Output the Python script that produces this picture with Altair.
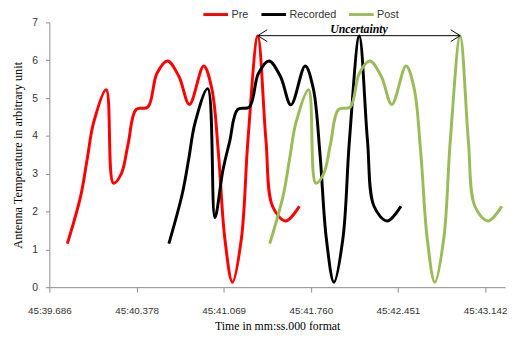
import altair as alt
import pandas as pd

series_names = ["Pre", "Recorded", "Post"]
series_colors = ["#FF0000", "#000000", "#9BBB59"]

pre_time = [39.829, 39.934, 39.985, 40.037, 40.137, 40.194, 40.258, 40.311, 40.375,
            40.467, 40.539, 40.623, 40.714, 40.797, 40.910, 40.974, 41.027, 41.078,
            41.138, 41.209, 41.261, 41.339, 41.404, 41.456, 41.560, 41.669]
pre_value = [1.15, 2.40, 3.36, 4.35, 5.22, 2.75, 3.01, 3.79, 4.70,
             4.76, 5.65, 5.98, 5.57, 4.83, 5.85, 5.26, 3.54, 1.28,
             0.13, 1.28, 3.88, 6.64, 3.88, 2.14, 1.75, 2.14]

recorded_time = [40.634, 40.739, 40.790, 40.842, 40.942, 40.999, 41.063, 41.116, 41.180,
                 41.272, 41.344, 41.428, 41.519, 41.602, 41.715, 41.779, 41.832, 41.883,
                 41.943, 42.014, 42.066, 42.144, 42.209, 42.261, 42.365, 42.474]
recorded_value = [1.15, 2.45, 3.36, 4.35, 5.25, 1.84, 3.10, 3.85, 4.70,
                  4.76, 5.65, 5.98, 5.57, 4.82, 5.85, 5.26, 3.54, 1.28,
                  0.13, 1.28, 3.88, 6.64, 3.88, 2.14, 1.75, 2.14]

post_time = [41.434, 41.539, 41.590, 41.642, 41.742, 41.799, 41.863, 41.916, 41.980,
             42.072, 42.144, 42.228, 42.319, 42.402, 42.515, 42.579, 42.632, 42.683,
             42.743, 42.814, 42.866, 42.944, 43.009, 43.061, 43.165, 43.274]
post_value = [1.15, 2.40, 3.36, 4.35, 5.22, 2.75, 3.01, 3.79, 4.70,
              4.76, 5.65, 5.98, 5.57, 4.83, 5.85, 5.26, 3.54, 1.28,
              0.13, 1.28, 3.88, 6.64, 3.88, 2.14, 1.75, 2.14]

x_tick_values = [39.686, 40.378, 41.069, 41.760, 42.451, 43.142]
x_tick_labels = ["45:39.686", "45:40.378", "45:41.069", "45:41.760", "45:42.451", "45:43.142"]
y_tick_values = [0, 1, 2, 3, 4, 5, 6, 7]

annot_start = [41.339]
annot_end = [42.944]
annot_level = [6.65]
annot_text = ["Uncertainty"]

rows = []
for name, ts, vs in zip(series_names,
                        [pre_time, recorded_time, post_time],
                        [pre_value, recorded_value, post_value]):
    for t, v in zip(ts, vs):
        rows.append({"series": name, "time": t, "value": v})
df = pd.DataFrame(rows)

label_map = "{" + ",".join(f"'{v:.3f}':'{l}'" for v, l in zip(x_tick_values, x_tick_labels)) + "}"
label_expr = label_map + "[format(datum.value, '.3f')]"

x_scale = alt.Scale(domain=[39.686, 43.30], nice=False, zero=False)
y_scale = alt.Scale(domain=[0, 7], nice=False)

x_axis = alt.Axis(values=x_tick_values, labelExpr=label_expr, title="Time in mm:ss.000 format",
                  titleFont="Liberation Serif", titleFontSize=12, titleFontWeight="normal",
                  titleColor="#000000", labelFont="Liberation Sans", labelFontSize=10,
                  labelColor="#333333", domainColor="#8C8C8C", tickColor="#8C8C8C",
                  tickSize=5, labelPadding=14, titlePadding=5, grid=False,
                  labelFlush=False, labelOverlap=False)
y_axis = alt.Axis(values=y_tick_values, tickCount=8, format="d",
                  title="Antenna Temperature in arbitrary unit",
                  titleFont="Liberation Serif", titleFontSize=12.5, titleFontWeight="normal",
                  titleColor="#000000", labelFont="Liberation Sans", labelFontSize=10.5,
                  labelColor="#333333", domainColor="#8C8C8C", tickColor="#8C8C8C",
                  tickSize=4, labelPadding=8, titlePadding=7, grid=False,
                  labelFlush=False, labelOverlap=False)

lines = alt.Chart(df).mark_line(interpolate="catmull-rom", strokeWidth=3).encode(
    x=alt.X("time:Q", scale=x_scale, axis=x_axis),
    y=alt.Y("value:Q", scale=y_scale, axis=y_axis),
    color=alt.Color("series:N", scale=alt.Scale(domain=series_names, range=series_colors),
                    sort=series_names,
                    legend=alt.Legend(orient="none", legendX=155, legendY=-22, direction="horizontal",
                                      title=None, symbolType="stroke", symbolSize=625,
                                      symbolStrokeWidth=3, labelFont="Liberation Sans",
                                      labelFontSize=11, labelColor="#333333", labelOffset=2,
                                      columnPadding=6)),
    detail="series:N",
)

adf = pd.DataFrame({"start": annot_start, "end": annot_end, "level": annot_level,
                    "text": annot_text})
adf["mid"] = (adf["start"] + adf["end"]) / 2

rule = alt.Chart(adf).mark_rule(color="#000000", strokeWidth=1).encode(
    x=alt.X("start:Q", scale=x_scale, axis=x_axis), x2="end:Q",
    y=alt.Y("level:Q", scale=y_scale, axis=y_axis))
left_head = alt.Chart(adf).mark_point(shape="M1.6,-1L0,0L1.6,1", size=144, filled=False,
                                      color="#000000", strokeWidth=1, opacity=1).encode(
    x=alt.X("start:Q", scale=x_scale, axis=x_axis), y=alt.Y("level:Q", scale=y_scale, axis=y_axis))
right_head = alt.Chart(adf).mark_point(shape="M-1.6,-1L0,0L-1.6,1", size=144, filled=False,
                                       color="#000000", strokeWidth=1, opacity=1).encode(
    x=alt.X("end:Q", scale=x_scale, axis=x_axis), y=alt.Y("level:Q", scale=y_scale, axis=y_axis))
label = alt.Chart(adf).mark_text(font="Liberation Serif", fontSize=12, fontWeight="bold",
                                 fontStyle="italic", baseline="alphabetic", dy=-3,
                                 color="#000000").encode(
    x=alt.X("mid:Q", scale=x_scale, axis=x_axis), y=alt.Y("level:Q", scale=y_scale, axis=y_axis),
    text="text:N")

chart = alt.layer(lines, rule, left_head, right_head, label).properties(
    width=463, height=269,
    autosize=alt.AutoSizeParams(type="none"),
    padding={"left": 42, "top": 12, "right": 2, "bottom": 50},
    background="#FFFFFF",
).configure_view(strokeWidth=0)

chart.save("out.html", embed_options={"renderer": "svg", "actions": False})
